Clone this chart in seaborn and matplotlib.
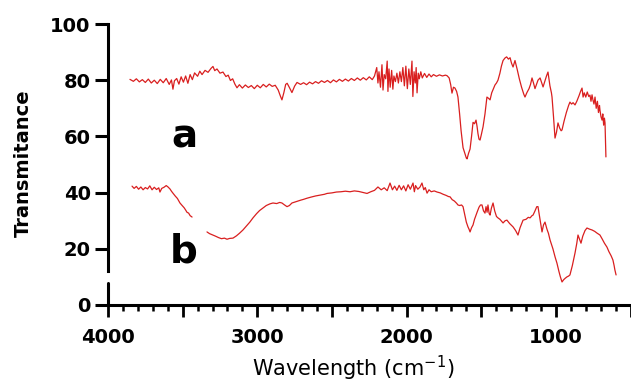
"""
FTIR spectra of samples a and b (transmittance vs wavenumber)
"""

import numpy as np
import pandas as pd
import matplotlib
matplotlib.use("Agg")
import matplotlib.pyplot as plt
from matplotlib.ticker import MultipleLocator, FuncFormatter
import seaborn as sns

# --- Data ---
wn_a = [3853, 3830, 3810, 3790, 3770, 3750, 3730, 3710, 3690, 3670, 3650, 3630, 3610, 3590, 3575,
        3565, 3555, 3540, 3525, 3510, 3495, 3480, 3465, 3450, 3435, 3420, 3400, 3385, 3370, 3350,
        3330, 3310, 3297, 3285, 3270, 3250, 3230, 3210, 3195, 3180, 3165, 3150, 3136, 3120, 3100,
        3080, 3060, 3040, 3020, 3000, 2980, 2960, 2940, 2920, 2900, 2880, 2860, 2845, 2835, 2822,
        2810, 2800, 2785, 2768, 2750, 2734, 2710, 2690, 2670, 2650, 2630, 2610, 2590, 2570, 2550,
        2530, 2510, 2490, 2470, 2450, 2430, 2410, 2390, 2370, 2350, 2330, 2310, 2290, 2270, 2250,
        2230, 2215, 2200, 2192, 2185, 2175, 2165, 2158, 2150, 2140, 2130, 2125, 2118, 2110, 2100,
        2092, 2085, 2075, 2065, 2055, 2045, 2035, 2025, 2015, 2005, 1995, 1985, 1975, 1964, 1958,
        1950, 1942, 1936, 1930, 1922, 1915, 1905, 1895, 1880, 1865, 1850, 1835, 1820, 1800, 1780,
        1760, 1740, 1729, 1715, 1705, 1696, 1686, 1676, 1665, 1656, 1645, 1635, 1622, 1610, 1600,
        1595, 1585, 1575, 1565, 1555, 1545, 1535, 1528, 1522, 1515, 1508, 1500, 1488, 1475, 1462,
        1450, 1441, 1430, 1418, 1408, 1398, 1388, 1375, 1365, 1354, 1341, 1330, 1318, 1307, 1297,
        1287, 1274, 1260, 1245, 1230, 1215, 1207, 1195, 1180, 1170, 1160, 1150, 1140, 1130, 1120,
        1106, 1095, 1086, 1075, 1063, 1053, 1040, 1030, 1026, 1016, 1006, 996, 986, 975, 965,
        959, 945, 930, 915, 906, 895, 885, 872, 860, 845, 835, 825, 818, 810, 800,
        790, 780, 772, 765, 758, 752, 745, 738, 730, 722, 715, 708, 705, 698, 691,
        686, 680, 675, 671, 668, 665]
t_a = [80.3, 79.6, 80.5, 79.4, 80.2, 79.2, 80.4, 79.0, 80.0, 78.8, 80.3, 79.1, 80.6, 78.5, 80.1,
       76.8, 79.8, 80.6, 78.6, 81.2, 79.3, 81.5, 78.9, 82.0, 80.2, 82.6, 81.4, 83.2, 82.0, 83.5,
       82.8, 84.2, 84.9, 83.4, 84.0, 82.5, 82.9, 81.3, 81.8, 79.9, 80.5, 78.6, 77.3, 78.4, 77.2,
       78.3, 77.4, 78.1, 77.0, 78.2, 77.3, 78.5, 77.6, 78.6, 77.8, 78.2, 76.5, 74.3, 73.0, 75.6,
       78.5, 78.9, 77.4, 75.6, 77.9, 79.2, 78.5, 79.1, 78.4, 79.3, 78.7, 79.5, 78.9, 79.8, 79.2,
       79.9, 79.1, 80.1, 79.4, 80.3, 79.6, 80.4, 79.7, 80.6, 79.9, 80.8, 80.0, 80.9, 80.1, 81.2,
       80.2, 81.5, 84.5, 79.0, 83.0, 77.5, 85.5, 76.5, 82.0, 80.5, 86.8, 76.0, 84.0, 77.5, 83.5,
       76.8, 81.5, 79.5, 82.5, 79.0, 83.0, 79.5, 84.5, 78.0, 85.0, 77.0, 84.0, 78.5, 86.8, 74.2,
       83.0, 79.0, 84.5, 75.5, 82.5, 80.5, 83.0, 80.8, 82.4, 81.0, 82.2, 81.2, 82.0, 81.4, 81.9,
       81.5, 81.8, 81.6, 80.8, 78.5, 75.4, 77.5, 77.2, 76.0, 74.0, 68.0, 62.0, 56.0, 54.0, 52.3,
       52.0, 54.0, 55.5, 60.0, 65.0, 64.5, 65.8, 63.5, 61.0, 59.0, 58.7, 60.5, 63.4, 68.0, 74.0,
       73.5, 73.0, 75.5, 77.0, 78.3, 79.0, 80.0, 82.5, 85.0, 87.0, 87.9, 88.3, 87.5, 88.0, 86.0,
       84.7, 87.0, 84.0, 80.5, 77.5, 75.0, 74.0, 75.5, 77.0, 78.5, 80.8, 79.0, 77.0, 78.5, 80.0,
       80.8, 79.0, 77.6, 79.5, 81.5, 82.9, 78.0, 75.5, 74.0, 67.0, 59.4, 61.5, 64.8, 63.0, 62.0,
       62.3, 65.5, 68.5, 71.0, 72.2, 71.5, 72.0, 71.2, 72.5, 74.5, 76.0, 77.2, 74.0, 75.5, 74.0,
       75.8, 74.2, 74.7, 72.5, 74.8, 73.0, 71.5, 74.0, 70.0, 72.5, 68.5, 71.0, 69.4, 67.0, 65.8,
       68.0, 64.0, 66.5, 64.8, 58.0, 52.7]

# sample b has a short gap around 3400 cm-1 -> two segments
wn_b1 = [3839, 3825, 3810, 3795, 3780, 3765, 3750, 3735, 3720, 3705, 3690, 3675, 3660, 3652, 3640,
         3625, 3610, 3598, 3585, 3575, 3565, 3550, 3535, 3518, 3505, 3490, 3480, 3471, 3460, 3450,
         3437]
t_b1 = [42.3, 41.5, 42.2, 41.2, 42.0, 41.0, 41.8, 41.3, 42.4, 41.0, 41.9, 41.1, 41.7, 40.2, 41.5,
        41.9, 42.5, 42.0, 41.3, 40.5, 39.8, 38.8, 37.9, 36.3, 35.5, 34.6, 33.8, 33.0, 32.7, 31.8,
        31.3]
wn_b2 = [3337, 3320, 3297, 3280, 3260, 3240, 3220, 3203, 3185, 3163, 3140, 3120, 3096, 3075, 3050,
         3029, 3005, 2985, 2962, 2940, 2915, 2895, 2870, 2850, 2835, 2820, 2801, 2785, 2768, 2740,
         2710, 2690, 2667, 2640, 2610, 2580, 2550, 2533, 2500, 2470, 2440, 2410, 2379, 2350, 2320,
         2290, 2265, 2240, 2215, 2192, 2170, 2150, 2130, 2111, 2095, 2080, 2065, 2050, 2035, 2020,
         2005, 1990, 1975, 1957, 1948, 1940, 1925, 1910, 1897, 1885, 1875, 1863, 1850, 1835, 1815,
         1796, 1775, 1755, 1735, 1720, 1709, 1695, 1680, 1665, 1656, 1645, 1632, 1622, 1610, 1600,
         1589, 1582, 1575, 1565, 1555, 1545, 1535, 1528, 1515, 1505, 1495, 1485, 1475, 1468, 1461,
         1455, 1447, 1441, 1432, 1421, 1410, 1398, 1388, 1375, 1354, 1340, 1328, 1310, 1287, 1270,
         1254, 1240, 1220, 1200, 1185, 1173, 1160, 1153, 1140, 1128, 1120, 1108, 1093, 1083, 1073,
         1060, 1050, 1039, 1020, 1005, 993, 980, 970, 959, 948, 938, 926, 915, 906, 890,
         872, 860, 852, 842, 832, 820, 805, 792, 775, 758, 740, 725, 705, 690, 675,
         658, 645, 630, 618, 610, 605, 597]
t_b2 = [26.0, 25.4, 24.9, 24.5, 24.0, 23.6, 23.8, 23.4, 23.7, 23.8, 24.6, 25.5, 26.7, 28.0, 29.5,
        31.0, 32.5, 33.6, 34.5, 35.4, 36.0, 36.3, 36.1, 36.5, 36.3, 35.7, 35.0, 35.4, 36.3, 36.8,
        37.3, 37.6, 38.0, 38.4, 38.8, 39.1, 39.4, 39.7, 39.9, 40.2, 40.3, 40.5, 40.3, 40.6, 40.4,
        40.0, 39.7, 40.3, 40.8, 42.0, 41.0, 41.7, 40.7, 43.4, 41.0, 42.3, 40.8, 42.6, 41.0, 42.4,
        40.6, 42.8, 41.2, 43.4, 40.3, 42.5, 41.2, 42.0, 43.4, 41.0, 41.8, 39.8, 41.0, 40.3, 40.6,
        40.2, 39.9, 39.4, 39.0, 38.6, 38.5, 37.5, 37.0, 36.2, 35.6, 35.4, 35.6, 35.0, 32.0, 29.5,
        27.8, 27.0, 26.0, 27.5, 28.5, 30.5, 32.0, 33.0, 34.8, 35.6, 35.6, 33.5, 32.7, 35.0, 33.0,
        35.6, 32.5, 32.0, 34.5, 36.3, 33.5, 31.5, 31.0, 30.5, 29.2, 30.0, 30.2, 29.0, 27.8, 26.5,
        24.9, 27.5, 30.2, 30.5, 31.2, 31.0, 31.8, 32.0, 33.5, 35.0, 35.0, 31.0, 26.0, 28.5, 29.5,
        27.0, 25.5, 23.1, 20.0, 17.0, 14.9, 12.0, 10.0, 8.2, 9.0, 9.5, 10.0, 10.3, 10.7, 14.0,
        18.5, 22.0, 24.9, 23.5, 22.0, 24.5, 26.5, 27.4, 27.0, 26.7, 26.2, 25.6, 24.9, 23.5, 22.0,
        20.6, 19.0, 17.5, 16.0, 14.0, 12.5, 10.7]

y_ticks = [0, 20, 40, 60, 80, 100]

frames = [
    pd.DataFrame({"wavenumber": wn_a, "T": t_a, "seg": "a"}),
    pd.DataFrame({"wavenumber": wn_b1, "T": t_b1, "seg": "b1"}),
    pd.DataFrame({"wavenumber": wn_b2, "T": t_b2, "seg": "b2"}),
]
df = pd.concat(frames, ignore_index=True)

# --- Style ---
sns.set_style("ticks")
plt.rcParams["font.family"] = ["DejaVu Sans"]
plt.rcParams.update({"text.color": "black", "axes.labelcolor": "black",
                     "xtick.color": "black", "ytick.color": "black"})

LINE_COLOR = "#d91f1f"

fig = plt.figure(figsize=(6.31, 3.86), dpi=100)
ax = fig.add_axes([108 / 631, 81 / 386, 523 / 631, 281 / 386])

for seg, sub in df.groupby("seg"):
    sns.lineplot(data=sub, x="wavenumber", y="T", ax=ax, color=LINE_COLOR,
                 linewidth=0.9, estimator=None, sort=False, legend=False)

ax.set_xlim(4000, 497)
ax.set_ylim(0, 100)

# x: major every 500 (labels at thousands), minor every 100
ax.xaxis.set_major_locator(MultipleLocator(500))
ax.xaxis.set_minor_locator(MultipleLocator(100))
ax.xaxis.set_major_formatter(FuncFormatter(lambda v, p: f"{int(v)}" if v % 1000 == 0 else ""))
ax.set_yticks(y_ticks)

for s in ["top", "right"]:
    ax.spines[s].set_visible(False)
for s in ["left", "bottom"]:
    ax.spines[s].set_linewidth(2.2)
    ax.spines[s].set_color("black")

# broken y-axis: upper part of spine plus a short stub near zero
ax.spines["left"].set_bounds(12, 100)
ax.axvline(4000, ymin=0, ymax=0.078, color="black", linewidth=2.2, clip_on=False)

ax.tick_params(axis="y", which="major", direction="out", length=9.5, width=2.2,
               labelsize=14, pad=3, colors="black")
ax.tick_params(axis="x", which="major", direction="out", length=8.5, width=2.0,
               labelsize=14, pad=8, colors="black")
ax.tick_params(axis="x", which="minor", direction="out", length=4.3, width=1.8, colors="black")
for lbl in ax.get_xticklabels() + ax.get_yticklabels():
    lbl.set_fontweight("bold")

ax.set_xlabel("Wavelength (cm$^{-1}$)", fontsize=15)
ax.xaxis.set_label_coords(0.468, -0.175)
ax.set_ylabel("Transmitance", fontsize=14, fontweight="bold")
ax.yaxis.set_label_coords(-0.143, 0.505)

# sample labels
ax.text(3490, 60, "a", fontsize=28, fontweight="bold", ha="center", va="center", color="black")
ax.text(3490, 19, "b", fontsize=28, fontweight="bold", ha="center", va="center", color="black")

fig.savefig("out.png", dpi=100)
